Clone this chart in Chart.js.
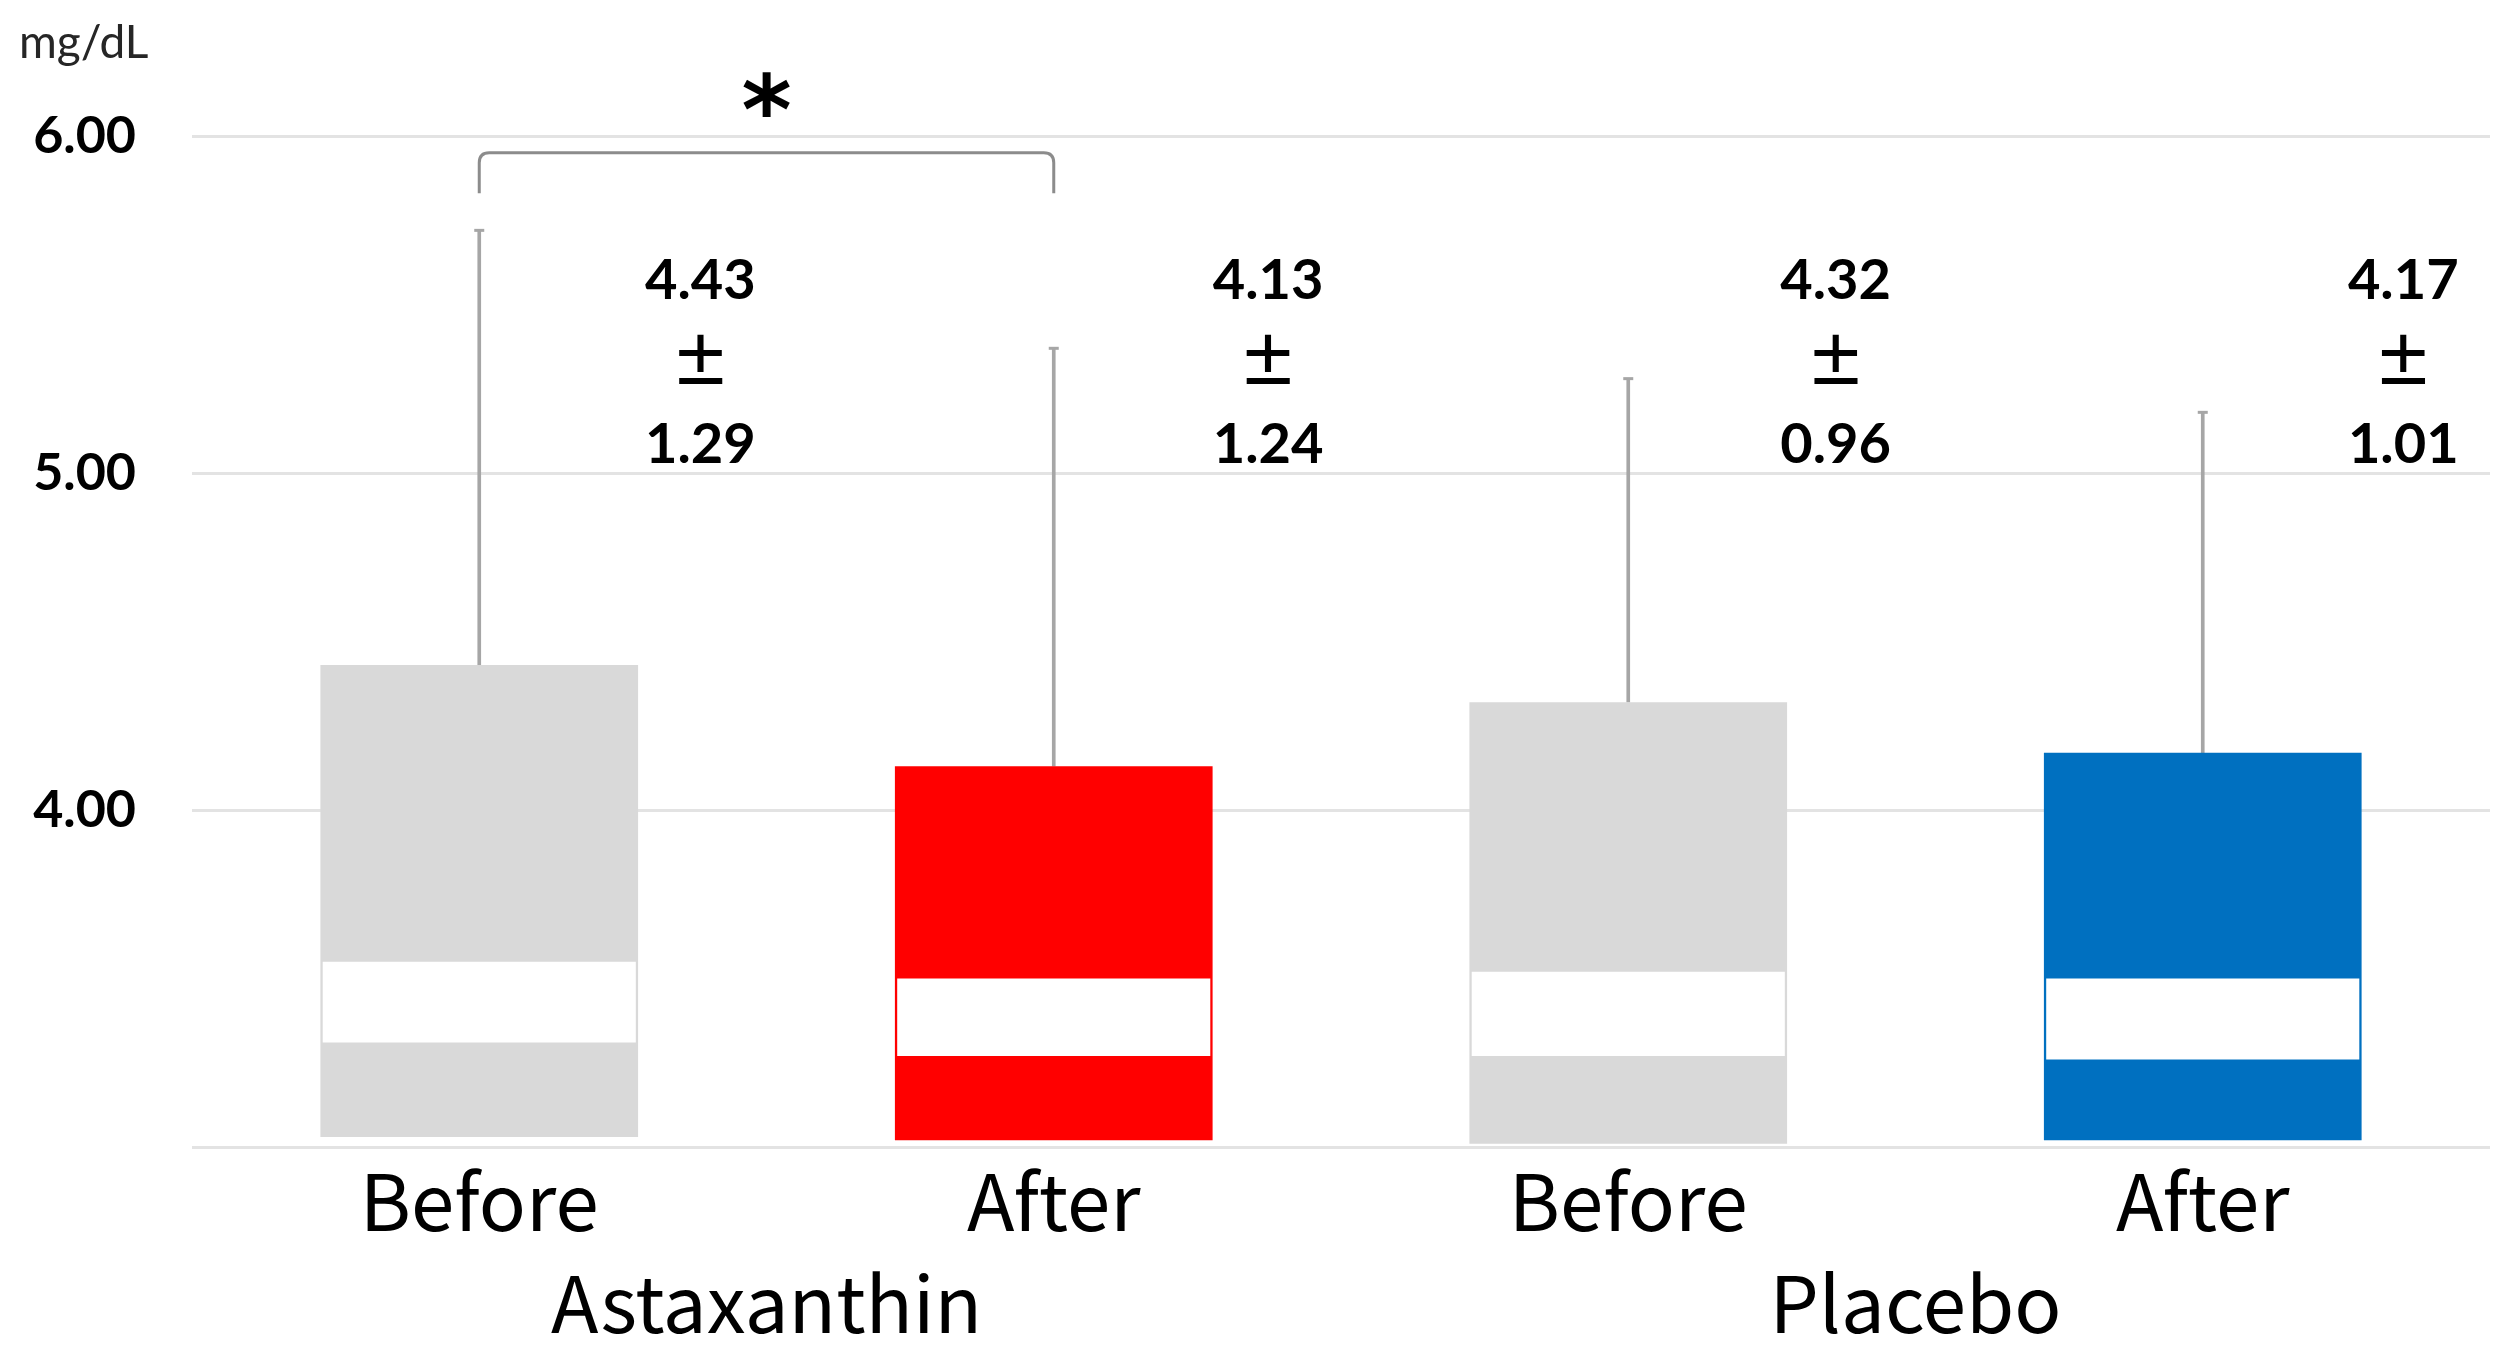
<!DOCTYPE html>
<html>
<head>
<meta charset="utf-8">
<script src="https://cdn.jsdelivr.net/npm/chart.js@4.4.1/dist/chart.umd.min.js"></script>
<style>
  html, body { margin: 0; padding: 0; background: #fff; }
  #wrap { width: 2511px; height: 1358px; }
</style>
</head>
<body>
<div id="wrap"><canvas id="boxChart" width="2511" height="1358"></canvas></div>
<script>
// values (mg/dL)
const categories = ["Before", "After", "Before", "After"];
const groups = ["Astaxanthin", "Placebo"];
const means = [4.43, 4.13, 4.32, 4.17];
const sds = [1.29, 1.24, 0.96, 1.01];
const barBase = [3.03, 3.02, 3.01, 3.02];
const bandHigh = [3.55, 3.50, 3.52, 3.50];
const bandLow = [3.31, 3.27, 3.27, 3.26];
const barColors = ["#d9d9d9", "#ff0000", "#d9d9d9", "#0070c0"];
const yMin = 3, yMax = 6;
const unitLabel = "mg/dL";
const sigPair = [0, 1];
const sigMark = "*";

/* ------------------------------
   annotations: mean ± SD, bracket, unit
--------------------------------*/
const annotate = {
    id: "annotate",
    afterDatasetsDraw(chart) {
        const { ctx, scales: { x, y } } = chart;
        ctx.save();

        // whisker caps
        ctx.strokeStyle = "#a6a6a6";
        ctx.lineWidth = 3;
        means.forEach((m, i) => {
            const cx = x.getPixelForValue(i);
            const ty = y.getPixelForValue(m + sds[i]);
            ctx.beginPath();
            ctx.moveTo(cx - 5, ty);
            ctx.lineTo(cx + 5, ty);
            ctx.stroke();
        });

        // mean ± SD text, sitting a bit right of each bar
        const step = x.getPixelForValue(1) - x.getPixelForValue(0);
        ctx.fillStyle = "#000";
        ctx.textAlign = "center";
        ctx.textBaseline = "middle";
        means.forEach((m, i) => {
            const cx = x.getPixelForValue(i) + step * (0.385 - 0.012 * i);
            const y0 = y.getPixelForValue(5.57);
            ctx.font = "bold 56px Lato";
            ctx.fillText(m.toFixed(2), cx, y0);
            ctx.fillText(sds[i].toFixed(2), cx, y0 + 164);
            ctx.font = "bold 60px 'Noto Sans CJK JP'";
            ctx.fillText("±", cx, y0 + 80);
        });

        // significance bracket
        const x1 = x.getPixelForValue(sigPair[0]);
        const x2 = x.getPixelForValue(sigPair[1]);
        const by = y.getPixelForValue(5.95);
        const ey = y.getPixelForValue(5.83);
        const r = 10;
        ctx.strokeStyle = "#8c8c8c";
        ctx.lineWidth = 3;
        ctx.beginPath();
        ctx.moveTo(x1, ey);
        ctx.lineTo(x1, by + r);
        ctx.quadraticCurveTo(x1, by, x1 + r, by);
        ctx.lineTo(x2 - r, by);
        ctx.quadraticCurveTo(x2, by, x2, by + r);
        ctx.lineTo(x2, ey);
        ctx.stroke();

        ctx.font = "bold 96px 'DejaVu Sans'";
        ctx.fillText(sigMark, (x1 + x2) / 2, y.getPixelForValue(6.05));

        // unit
        ctx.font = "46px Lato";
        ctx.fillStyle = "#262626";
        ctx.textAlign = "left";
        ctx.fillText(unitLabel, 19, 43);

        ctx.restore();
    }
};

new Chart(document.getElementById("boxChart"), {
    type: "bar",
    data: {
        labels: categories,
        datasets: [
            {
                // white median band
                data: bandLow.map((v, i) => [v, bandHigh[i]]),
                backgroundColor: "#ffffff",
                barPercentage: 0.545,
                categoryPercentage: 1
            },
            {
                data: means.map((m, i) => [barBase[i], m]),
                backgroundColor: barColors,
                barPercentage: 0.553,
                categoryPercentage: 1
            },
            {
                // SD whisker
                data: means.map((m, i) => [m, m + sds[i]]),
                backgroundColor: "#a6a6a6",
                barThickness: 3
            }
        ]
    },
    options: {
        responsive: false,
        animation: false,
        devicePixelRatio: 1,
        layout: { padding: { top: 136, right: 21, left: 0, bottom: 0 } },
        plugins: {
            legend: { display: false },
            tooltip: { enabled: false }
        },
        scales: {
            x: {
                stacked: true,
                grid: { display: false },
                border: { display: false },
                ticks: {
                    padding: 0,
                    color: "#000",
                    font: { family: "'Noto Sans CJK JP'", size: 78 }
                },
                afterFit: (s) => { s.height = 100; }
            },
            x2: {
                type: "category",
                position: "bottom",
                labels: groups,
                offset: true,
                grid: { display: false },
                border: { display: false },
                ticks: {
                    padding: 2,
                    color: "#000",
                    font: { family: "'Noto Sans CJK JP'", size: 78 }
                },
                afterFit: (s) => { s.height = 111; }
            },
            y: {
                stacked: false,
                min: yMin,
                max: yMax,
                border: { display: false },
                grid: { color: "#e3e3e3", lineWidth: 3, drawTicks: false },
                ticks: {
                    stepSize: 1,
                    padding: 56,
                    color: "#000",
                    font: { family: "Lato", size: 52, weight: "bold" },
                    callback: (v) => v === yMin ? "" : v.toFixed(2)
                },
                afterFit: (s) => { s.width = 192; }
            }
        }
    },
    plugins: [annotate]
});
</script>
</body>
</html>
